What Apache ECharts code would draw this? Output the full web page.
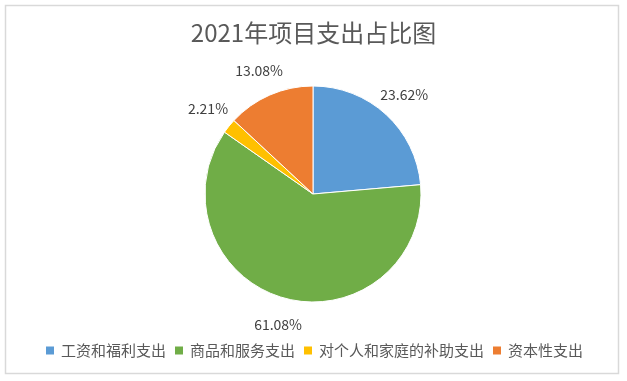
<!DOCTYPE html>
<html>
<head>
<meta charset="utf-8">
<script src="https://cdn.jsdelivr.net/npm/echarts@6/dist/echarts.min.js"></script>
<style>html,body{margin:0;padding:0;background:#fff;}#c{width:627px;height:381px;}</style>
</head>
<body>
<div id="c"></div>
<script>
const titleText = '2021年项目支出占比图';
const categories = ['工资和福利支出', '商品和服务支出', '对个人和家庭的补助支出', '资本性支出'];
const values = [23.62, 61.08, 2.21, 13.08];
const colors = ['#5B9BD5', '#70AD47', '#FFC000', '#ED7D31'];

const chart = echarts.init(document.getElementById('c'), null, {renderer: 'canvas'});
const FONT = '"Noto Sans CJK SC", "Noto Sans", sans-serif';
chart.setOption({
  animation: false,
  color: colors,
  graphic: [{
    type: 'rect',
    shape: {x: 5.5, y: 5.5, width: 613, height: 368},
    style: {fill: 'none', stroke: '#d9d9d9', lineWidth: 1.5},
    silent: true,
    z: -1
  }],
  title: {
    text: titleText,
    left: 'center',
    top: 16,
    textStyle: {fontFamily: FONT, fontSize: 24, fontWeight: 'normal', color: '#595959'}
  },
  legend: {
    bottom: 18,
    left: 'center',
    icon: 'rect',
    itemWidth: 10,
    itemHeight: 10,
    itemGap: 7,
    textStyle: {fontFamily: FONT, fontSize: 15, color: '#595959', padding: [0, 0, 0, 1]},
    data: categories
  },
  series: [{
    type: 'pie',
    center: [313, 194],
    radius: 108,
    startAngle: 90,
    clockwise: true,
    avoidLabelOverlap: false,
    itemStyle: {borderColor: '#fff', borderWidth: 1},
    label: {
      show: true,
      position: 'outside',
      formatter: p => p.value.toFixed(2) + '%',
      fontFamily: FONT,
      fontSize: 14,
      color: '#404040',
      distanceToLabelLine: 0
    },
    labelLine: {show: false, length: 27, length2: 0},
    labelLayout: {align: 'center'},
    emphasis: {disabled: true},
    data: categories.map((n, i) => ({name: n, value: values[i]}))
  }]
});
</script>
</body>
</html>
